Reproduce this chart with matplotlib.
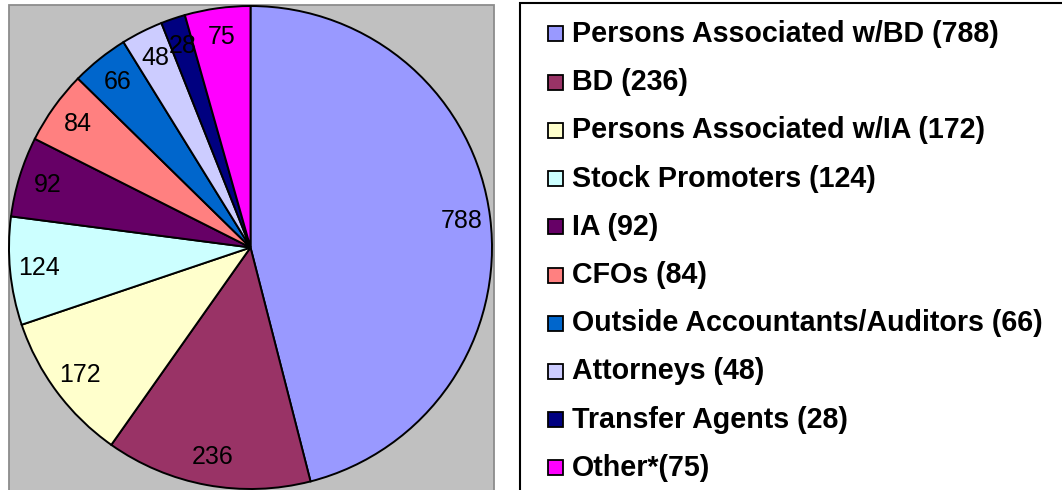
import matplotlib
matplotlib.use("Agg")
import matplotlib.pyplot as plt
from matplotlib.patches import Rectangle

categories = ["Persons Associated w/BD", "BD", "Persons Associated w/IA",
              "Stock Promoters", "IA", "CFOs", "Outside Accountants/Auditors",
              "Attorneys", "Transfer Agents", "Other*"]
values = [788, 236, 172, 124, 92, 84, 66, 48, 28, 75]
legend_labels = ["Persons Associated w/BD (788)", "BD (236)",
                 "Persons Associated w/IA (172)", "Stock Promoters (124)",
                 "IA (92)", "CFOs (84)", "Outside Accountants/Auditors (66)",
                 "Attorneys (48)", "Transfer Agents (28)", "Other*(75)"]
colors = ["#9999FF", "#993366", "#FFFFCC", "#CCFFFF", "#660066",
          "#FF8080", "#0066CC", "#CCCCFF", "#000080", "#FF00FF"]

W, H = 1062, 490
fig = plt.figure(figsize=(W / 100, H / 100), dpi=100)
fig.patch.set_facecolor("white")
plt.rcParams["font.family"] = ["Liberation Sans", "DejaVu Sans"]


def fx(px):
    return px / W


def fy(py):
    return 1 - py / H


# gray plot area
fig.patches.append(Rectangle((fx(9), fy(500)), fx(485), (500 - 5) / H,
                             transform=fig.transFigure, facecolor="#C0C0C0",
                             edgecolor="#8C8C8C", linewidth=1.3, zorder=-5))

# pie axes
cx, cy, r = 250.5, 247.5, 241.5
ax = fig.add_axes([fx(cx - r), fy(cy + r), fx(2 * r), 2 * r / H], zorder=2)
ax.patch.set_alpha(0)
ax.pie(values, labels=[str(v) for v in values], colors=colors,
       startangle=90, counterclock=False, labeldistance=0.88,
       wedgeprops=dict(edgecolor="black", linewidth=1.4),
       textprops=dict(ha="center", va="center", fontsize=18, color="black"))
ax.set_xlim(-1, 1)
ax.set_ylim(-1, 1)
ax.set_aspect("auto")
ax.axis("off")

# legend frame
fig.patches.append(Rectangle((fx(520), fy(520)), fx(700), (520 - 3) / H,
                             transform=fig.transFigure, facecolor="white",
                             edgecolor="black", linewidth=1.5, zorder=-5))

# legend entries
for i, (lab, col) in enumerate(zip(legend_labels, colors)):
    yc = 34 + 48.2 * i
    fig.patches.append(Rectangle((fx(548), fy(yc + 7.5)), fx(15), 15 / H,
                                 transform=fig.transFigure, facecolor=col,
                                 edgecolor="black", linewidth=1.3, zorder=3))
    fig.text(fx(572), fy(42 + 48.2 * i), lab, fontsize=20.6, fontweight="bold",
             ha="left", va="baseline", color="black", zorder=3)

fig.savefig("out.png", dpi=100)
